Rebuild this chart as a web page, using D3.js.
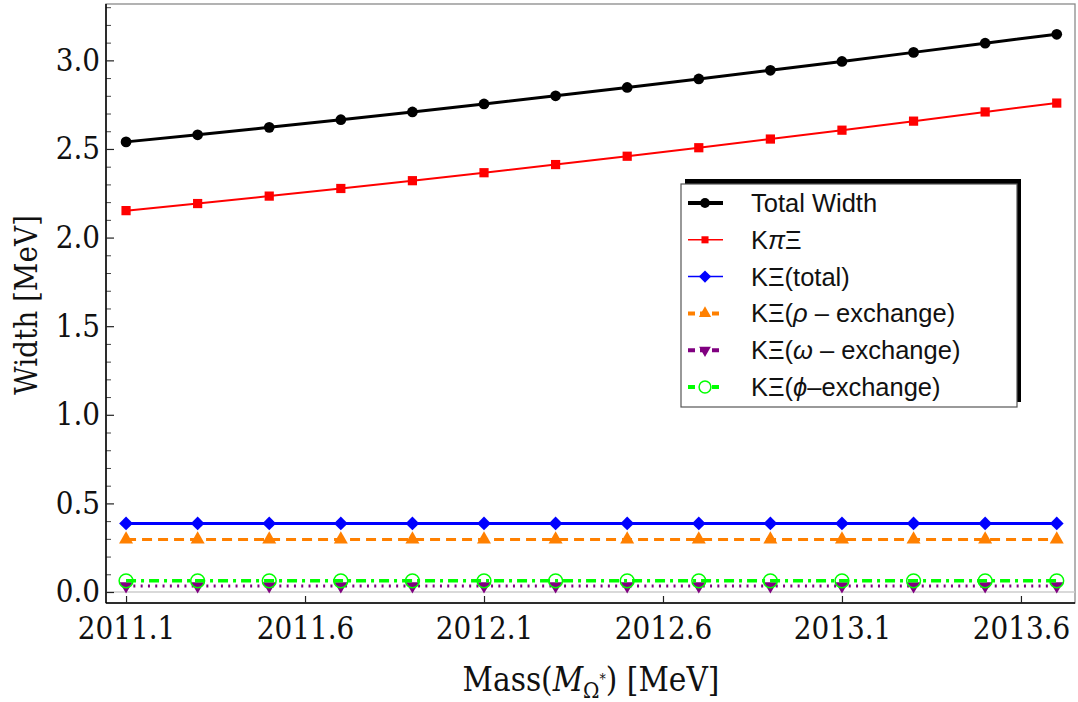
<!DOCTYPE html>
<html>
<head>
<meta charset="utf-8">
<script src="https://cdn.jsdelivr.net/npm/d3@7"></script>
<style>
  body { margin: 0; background: #fff; }
  .serif { font-family: "DejaVu Serif Condensed", "DejaVu Serif", serif; font-stretch: condensed; }
  .legend-text { font-family: "Liberation Sans", Arial, sans-serif; font-size: 25.5px; }
</style>
</head>
<body>
<div id="chart"></div>
<script>
// data
const masses = [2011.1, 2011.3, 2011.5, 2011.7, 2011.9, 2012.1, 2012.3, 2012.5, 2012.7, 2012.9, 2013.1, 2013.3, 2013.5, 2013.7];
const totalWidth = [2.540, 2.580, 2.622, 2.665, 2.709, 2.754, 2.800, 2.847, 2.895, 2.944, 2.994, 3.045, 3.097, 3.147];
const kPiXi = [2.152, 2.192, 2.234, 2.277, 2.321, 2.366, 2.412, 2.459, 2.507, 2.556, 2.606, 2.657, 2.709, 2.759];
const kXiTotal = [0.387, 0.387, 0.387, 0.387, 0.387, 0.387, 0.387, 0.387, 0.387, 0.387, 0.387, 0.387, 0.387, 0.387];
const kXiRho = [0.297, 0.297, 0.297, 0.297, 0.297, 0.297, 0.297, 0.297, 0.297, 0.297, 0.297, 0.297, 0.297, 0.297];
const kXiOmega = [0.034, 0.034, 0.034, 0.034, 0.034, 0.034, 0.034, 0.034, 0.034, 0.034, 0.034, 0.034, 0.034, 0.034];
const kXiPhi = [0.063, 0.063, 0.063, 0.063, 0.063, 0.063, 0.063, 0.063, 0.063, 0.063, 0.063, 0.063, 0.063, 0.063];

const xTicks = [2011.1, 2011.6, 2012.1, 2012.6, 2013.1, 2013.6];
const yTicks = [0.0, 0.5, 1.0, 1.5, 2.0, 2.5, 3.0];

// series: values + look
const series = [
  { name: 'total', values: totalWidth, color: '#000000', width: 3, dash: null, marker: 'circle', size: 90 },
  { name: 'kpixi', values: kPiXi, color: '#ff0000', width: 2, dash: null, marker: 'square', size: 85 },
  { name: 'kxi', values: kXiTotal, color: '#0000ff', width: 3, dash: null, marker: 'diamond', size: 95 },
  { name: 'rho', values: kXiRho, color: '#ff8000', width: 3, dash: '10,6', marker: 'triUp', size: 85 },
  { name: 'omega', values: kXiOmega, color: '#800080', width: 3, dash: '2,5.3', marker: 'triDown', size: 75 },
  { name: 'phi', values: kXiPhi, color: '#00ff00', width: 3.5, dash: '10,5,3,5', marker: 'openCircle', size: 150 }
];

const svgWidth = 1078;
const svgHeight = 702;
const plot = { left: 106, right: 1075, top: 4, bottom: 603 };

const svg = d3.select('#chart')
  .append('svg')
  .attr('width', svgWidth)
  .attr('height', svgHeight);

const x = d3.scaleLinear()
  .domain([2011.044, 2013.751])
  .range([plot.left, plot.right]);

const y = d3.scaleLinear()
  .domain([-0.062, 3.318])
  .range([plot.bottom, plot.top]);

// frame (top/right gray)
svg.append('rect')
  .attr('x', plot.left)
  .attr('y', plot.top)
  .attr('width', plot.right - plot.left)
  .attr('height', plot.bottom - plot.top)
  .attr('fill', 'none')
  .attr('stroke', '#8a8a8a')
  .attr('stroke-width', 1.3);

// zero line
svg.append('line')
  .attr('x1', plot.left).attr('x2', plot.right)
  .attr('y1', y(0)).attr('y2', y(0))
  .attr('stroke', '#cccccc')
  .attr('stroke-width', 1.5);

// y axis
const yMinor = d3.range(0, 34).map(d => d / 10).filter(v => Math.abs(v * 2 - Math.round(v * 2)) > 1e-6);
svg.append('g')
  .attr('transform', `translate(${plot.left},0)`)
  .call(d3.axisLeft(y).tickValues(yMinor).tickSize(-5).tickFormat(''))
  .call(g => g.select('.domain').remove())
  .selectAll('line').attr('stroke', '#444');

const yAxis = svg.append('g')
  .attr('class', 'serif')
  .attr('transform', `translate(${plot.left},0)`)
  .call(d3.axisLeft(y).tickValues(yTicks).tickSize(-8).tickPadding(6).tickFormat(d3.format('.1f')));
yAxis.select('.domain').attr('d', `M0,${plot.top}V${plot.bottom}`).attr('stroke', '#000').attr('stroke-width', 1.5);
yAxis.selectAll('.tick line').attr('stroke', '#222').attr('stroke-width', 1.2);
yAxis.selectAll('text').attr('font-size', 31).attr('fill', '#111');

// x axis
const xAxis = svg.append('g')
  .attr('class', 'serif')
  .attr('transform', `translate(0,${plot.bottom})`)
  .call(d3.axisBottom(x).tickValues(xTicks).tickSize(-7).tickPadding(14).tickFormat(d3.format('.1f')));
xAxis.select('.domain').attr('d', `M${plot.left},0H${plot.right}`).attr('stroke', '#000').attr('stroke-width', 1.5);
xAxis.selectAll('.tick line').attr('stroke', '#222').attr('stroke-width', 1.2);
xAxis.selectAll('text').attr('font-size', 31).attr('fill', '#111');

// axis titles
svg.append('text')
  .attr('class', 'serif')
  .attr('transform', `translate(37, 305) rotate(-90)`)
  .attr('text-anchor', 'middle')
  .attr('font-size', 31)
  .attr('fill', '#111')
  .text('Width [MeV]');

const xTitle = svg.append('text')
  .attr('class', 'serif')
  .attr('x', 591)
  .attr('y', 691)
  .attr('text-anchor', 'middle')
  .attr('font-size', 33)
  .attr('fill', '#111');
xTitle.append('tspan').text('Mass(');
xTitle.append('tspan').attr('font-style', 'italic').text('M');
xTitle.append('tspan').attr('font-size', 22).attr('dy', 7).text('Ω');
xTitle.append('tspan').attr('font-size', 14).attr('dy', -14).text('*');
xTitle.append('tspan').attr('dy', 7).text(') [MeV]');

// marker path builder
function markerPath(type, size) {
  if (type === 'circle' || type === 'openCircle') return d3.symbol(d3.symbolCircle, size)();
  if (type === 'square' || type === 'diamond') return d3.symbol(d3.symbolSquare, size)();
  return d3.symbol(d3.symbolTriangle, size)();
}
function markerRotate(type) {
  if (type === 'diamond') return 45;
  if (type === 'triDown') return 180;
  return 0;
}

const line = d3.line()
  .x((d, i) => x(masses[i]))
  .y(d => y(d));

const plotG = svg.append('g');

series.forEach(s => {
  const g = plotG.append('g');
  g.append('path')
    .attr('d', line(s.values))
    .attr('fill', 'none')
    .attr('stroke', s.color)
    .attr('stroke-width', s.width)
    .attr('stroke-dasharray', s.dash);

  g.selectAll('path.mark')
    .data(s.values)
    .enter()
    .append('path')
    .attr('class', 'mark')
    .attr('d', markerPath(s.marker, s.size))
    .attr('transform', (d, i) => `translate(${x(masses[i])},${y(d)}) rotate(${markerRotate(s.marker)})`)
    .attr('fill', s.marker === 'openCircle' ? 'none' : s.color)
    .attr('stroke', s.marker === 'openCircle' ? s.color : 'none')
    .attr('stroke-width', 1.5);
});

// legend
const legendLabels = [
  [['Total Width', false]],
  [['K', false], ['π', true], ['Ξ', false]],
  [['KΞ(total)', false]],
  [['KΞ(', false], ['ρ', true], [' – exchange)', false]],
  [['KΞ(', false], ['ω', true], [' – exchange)', false]],
  [['KΞ(', false], ['ϕ', true], ['–exchange)', false]]
];
const legendWidths = [4, 1.5, 1.5, 4, 4, 4];
const legendDash = [null, null, null, '7,5', '7,5', '7,5'];
const legendSizes = [75, 50, 75, 65, 60, 110];

const legendBox = { x: 681, y: 184, w: 336, h: 223 };
const legend = svg.append('g');
legend.append('rect')
  .attr('x', legendBox.x + 4)
  .attr('y', legendBox.y - 5)
  .attr('width', legendBox.w)
  .attr('height', legendBox.h)
  .attr('fill', '#000');
legend.append('rect')
  .attr('x', legendBox.x)
  .attr('y', legendBox.y)
  .attr('width', legendBox.w)
  .attr('height', legendBox.h)
  .attr('fill', '#fff')
  .attr('stroke', '#555')
  .attr('stroke-width', 1.2);

const legendY = d3.scaleLinear().domain([0, 5]).range([203, 387]);

series.forEach((s, i) => {
  const cy = legendY(i);
  legend.append('line')
    .attr('x1', 688).attr('x2', 723)
    .attr('y1', cy).attr('y2', cy)
    .attr('stroke', s.color)
    .attr('stroke-width', legendWidths[i])
    .attr('stroke-dasharray', legendDash[i]);
  legend.append('path')
    .attr('d', markerPath(s.marker, legendSizes[i]))
    .attr('transform', `translate(705,${cy}) rotate(${markerRotate(s.marker)})`)
    .attr('fill', s.marker === 'openCircle' ? '#fff' : s.color)
    .attr('stroke', s.marker === 'openCircle' ? s.color : 'none')
    .attr('stroke-width', 1.5);
  const t = legend.append('text')
    .attr('class', 'legend-text')
    .attr('x', 751)
    .attr('y', cy + 9)
    .attr('fill', '#111');
  legendLabels[i].forEach(([txt, it]) => {
    t.append('tspan').attr('font-style', it ? 'italic' : null).text(txt);
  });
});
</script>
</body>
</html>
